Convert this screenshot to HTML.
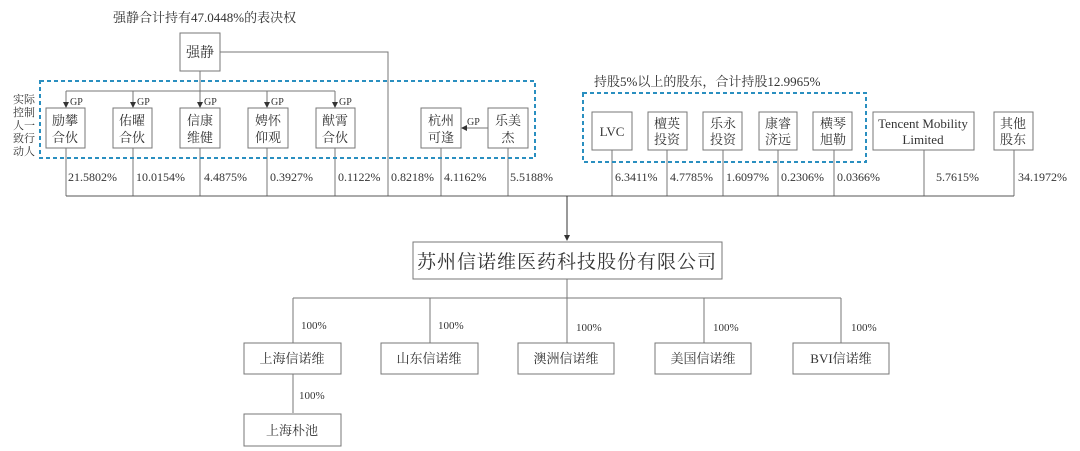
<!DOCTYPE html>
<html><head><meta charset="utf-8"><style>
html,body{margin:0;padding:0;background:#fff;}
svg{display:block;font-family:"Liberation Serif","Noto Serif CJK SC",serif;}
text{fill:#333;}
</style></head><body>
<svg width="1080" height="451" viewBox="0 0 1080 451" xmlns="http://www.w3.org/2000/svg">
<defs><marker id="a" markerWidth="6" markerHeight="6" refX="5" refY="3" orient="auto"><path d="M0,0 L6,3 L0,6z" fill="#333"/></marker></defs>
<g stroke="#777" fill="none" stroke-width="1">
<path d="M220 52 H388 V196"/>
<path d="M200 71 V91 M66 91 H335"/>
<path d="M66 91 V107" marker-end="url(#a)"/>
<path d="M133 91 V107" marker-end="url(#a)"/>
<path d="M200 91 V107" marker-end="url(#a)"/>
<path d="M267 91 V107" marker-end="url(#a)"/>
<path d="M335 91 V107" marker-end="url(#a)"/>
<path d="M488 128 H462" marker-end="url(#a)"/>
<path d="M66 148 V196 M133 148 V196 M200 148 V196 M267 148 V196 M335 148 V196 M441 148 V196 M508 148 V196"/>
<path d="M612 150 V196 M667 150 V196 M723 150 V196 M778 150 V196 M834 150 V196 M924 150 V196 M1014 150 V196"/>
<path d="M66 196 H1014" stroke="#555"/>
<path d="M567 196 V240" stroke="#333" marker-end="url(#a)"/>
<path d="M567 279 V298 M293 298 H841 M293 298 V343 M430 298 V343 M567 298 V343 M704 298 V343 M841 298 V343 M293 374 V413"/>
<rect x="180" y="33" width="40" height="38"/>
<rect x="46" y="108" width="39" height="40"/><rect x="113" y="108" width="39" height="40"/><rect x="180" y="108" width="40" height="40"/><rect x="248" y="108" width="40" height="40"/><rect x="316" y="108" width="39" height="40"/>
<rect x="421" y="108" width="40" height="40"/><rect x="488" y="108" width="40" height="40"/>
<rect x="592" y="112" width="40" height="38"/><rect x="648" y="112" width="39" height="38"/><rect x="703" y="112" width="39" height="38"/><rect x="759" y="112" width="38" height="38"/><rect x="813" y="112" width="39" height="38"/>
<rect x="873" y="112" width="101" height="38"/><rect x="994" y="112" width="39" height="38"/>
<rect x="413" y="242" width="309" height="37"/>
<rect x="244" y="343" width="97" height="31"/><rect x="381" y="343" width="97" height="31"/><rect x="518" y="343" width="96" height="31"/><rect x="655" y="343" width="96" height="31"/><rect x="793" y="343" width="96" height="31"/>
<rect x="244" y="414" width="97" height="32"/>
</g>
<g stroke="#2a8fc0" stroke-width="2" stroke-dasharray="4,3" fill="none">
<rect x="40" y="81" width="495" height="77"/>
<rect x="583" y="93" width="283" height="69"/>
</g>
<g font-size="13">
<text x="113" y="22">强静合计持有47.0448%的表决权</text>
<text x="594" y="86">持股5%以上的股东，合计持股12.9965%</text>
<text x="200" y="57" text-anchor="middle" font-size="14">强静</text>
<g font-size="10"><text x="70" y="105">GP</text><text x="137" y="105">GP</text><text x="204" y="105">GP</text><text x="271" y="105">GP</text><text x="339" y="105">GP</text><text x="467" y="125">GP</text></g>
<g font-size="11" text-anchor="middle"><text x="24" y="103">实际</text><text x="24" y="116">控制</text><text x="24" y="129">人一</text><text x="24" y="142">致行</text><text x="24" y="155">动人</text></g>
<g text-anchor="middle" font-size="13">
<text x="65" y="125">励攀</text><text x="65" y="142">合伙</text>
<text x="132" y="125">佑曜</text><text x="132" y="142">合伙</text>
<text x="200" y="125">信康</text><text x="200" y="142">维健</text>
<text x="268" y="125">娉怀</text><text x="268" y="142">仰观</text>
<text x="335" y="125">猷霄</text><text x="335" y="142">合伙</text>
<text x="441" y="125">杭州</text><text x="441" y="142">可逢</text>
<text x="508" y="125">乐美</text><text x="508" y="142">杰</text>
<text x="612" y="136">LVC</text>
<text x="667" y="128">檀英</text><text x="667" y="144">投资</text>
<text x="723" y="128">乐永</text><text x="723" y="144">投资</text>
<text x="778" y="128">康睿</text><text x="778" y="144">济远</text>
<text x="833" y="128">横琴</text><text x="833" y="144">旭勒</text>
<text x="923" y="128">Tencent Mobility</text><text x="923" y="144">Limited</text>
<text x="1013" y="128">其他</text><text x="1013" y="144">股东</text>
</g>
<g font-size="12">
<text x="68" y="181">21.5802%</text><text x="136" y="181">10.0154%</text><text x="204" y="181">4.4875%</text><text x="270" y="181">0.3927%</text><text x="338" y="181">0.1122%</text><text x="391" y="181">0.8218%</text><text x="444" y="181">4.1162%</text><text x="510" y="181">5.5188%</text>
<text x="615" y="181">6.3411%</text><text x="670" y="181">4.7785%</text><text x="726" y="181">1.6097%</text><text x="781" y="181">0.2306%</text><text x="837" y="181">0.0366%</text><text x="936" y="181">5.7615%</text><text x="1018" y="181">34.1972%</text>
</g>
<text x="567" y="268" text-anchor="middle" font-size="19" letter-spacing="1">苏州信诺维医药科技股份有限公司</text>
<g font-size="11"><text x="301" y="329">100%</text><text x="438" y="329">100%</text><text x="576" y="331">100%</text><text x="713" y="331">100%</text><text x="851" y="331">100%</text><text x="299" y="399">100%</text></g>
<g text-anchor="middle" font-size="13">
<text x="292" y="363">上海信诺维</text><text x="429" y="363">山东信诺维</text><text x="566" y="363">澳洲信诺维</text><text x="703" y="363">美国信诺维</text><text x="841" y="363">BVI信诺维</text>
<text x="292" y="435">上海朴池</text>
</g>
</g>
</svg>
</body></html>
